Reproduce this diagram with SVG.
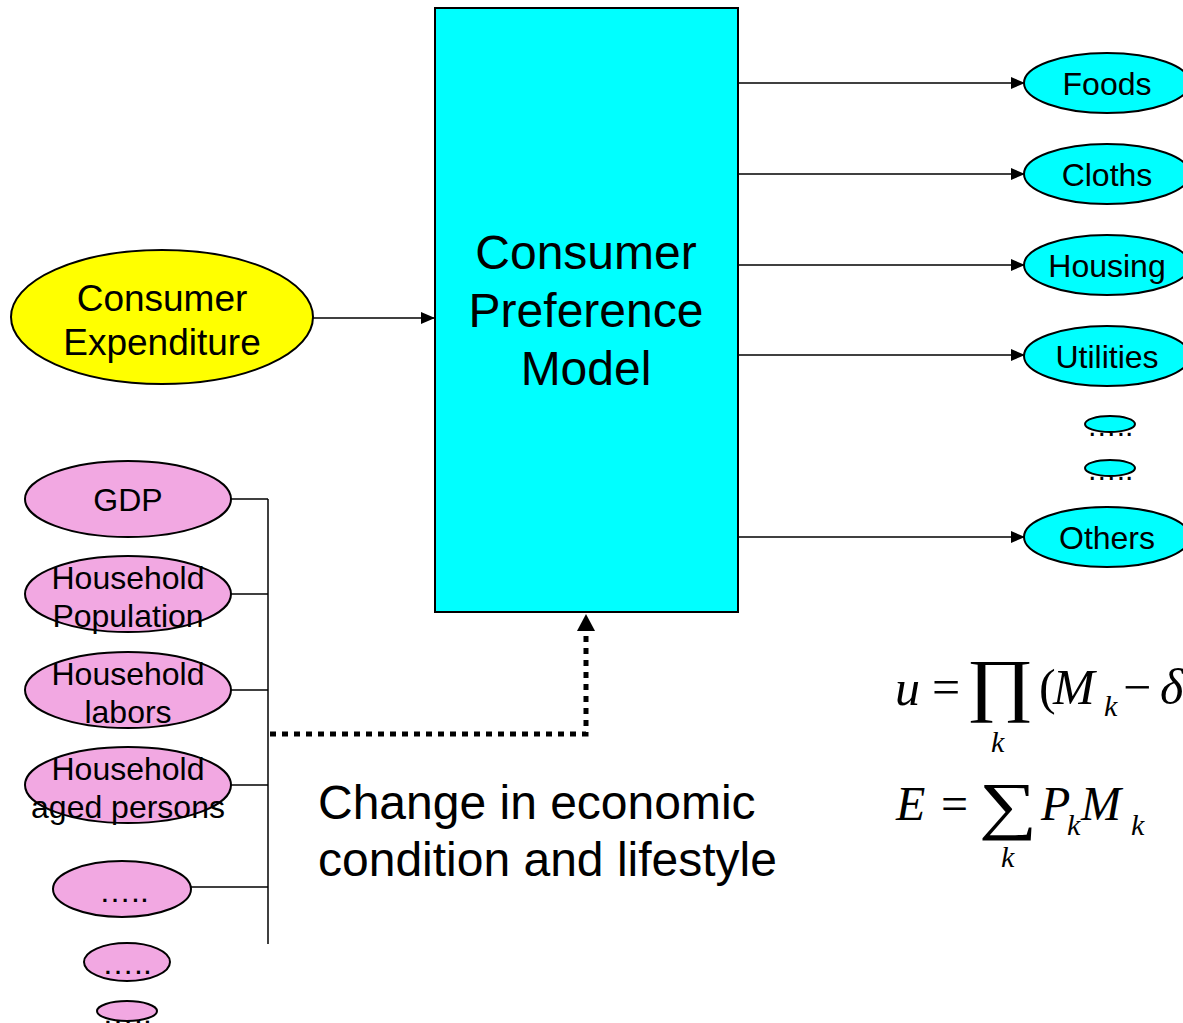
<svg xmlns="http://www.w3.org/2000/svg" width="1183" height="1023" viewBox="0 0 1183 1023">
<style>
text{font-family:"Liberation Sans",Arial,sans-serif;fill:#000}
.c{text-anchor:middle}
.o{fill:#00FFFF;stroke:#000;stroke-width:2}
.p{fill:#F2A8E2;stroke:#000;stroke-width:2}
.ln{stroke:#000;stroke-width:1.5;fill:none}
.m{font-family:"Liberation Serif","Times New Roman",serif;font-style:italic}
.mu{font-family:"Liberation Serif","Times New Roman",serif}
</style>
<defs>
<marker id="ah" markerWidth="14" markerHeight="12" refX="13" refY="6" orient="auto" markerUnits="userSpaceOnUse" viewBox="0 0 14 12">
<path d="M0,0 L14,6 L0,12 z" fill="#000"/>
</marker>
</defs>
<g id="connectors">
<line class="ln" x1="313" y1="318" x2="434" y2="318" marker-end="url(#ah)"/>
<line class="ln" x1="738" y1="83" x2="1024" y2="83" marker-end="url(#ah)"/>
<line class="ln" x1="738" y1="174" x2="1024" y2="174" marker-end="url(#ah)"/>
<line class="ln" x1="738" y1="265" x2="1024" y2="265" marker-end="url(#ah)"/>
<line class="ln" x1="738" y1="355" x2="1024" y2="355" marker-end="url(#ah)"/>
<line class="ln" x1="738" y1="537" x2="1024" y2="537" marker-end="url(#ah)"/>
<line class="ln" x1="268" y1="499" x2="268" y2="944"/>
<line class="ln" x1="231" y1="499" x2="268" y2="499"/>
<line class="ln" x1="231" y1="594" x2="268" y2="594"/>
<line class="ln" x1="231" y1="690" x2="268" y2="690"/>
<line class="ln" x1="231" y1="785" x2="268" y2="785"/>
<line class="ln" x1="191" y1="887" x2="268" y2="887"/>
<path d="M270,734 H586 V630" fill="none" stroke="#000" stroke-width="5" stroke-dasharray="6,6"/>
<path d="M577,631 L586,614 L595,631 z" fill="#000"/>
</g>
<g id="model">
<rect x="435" y="8" width="303" height="604" class="o"/>
<text class="c" x="586" y="269" font-size="48">Consumer</text>
<text class="c" x="586" y="327" font-size="48">Preference</text>
<text class="c" x="586" y="385" font-size="48">Model</text>
</g>
<g id="expenditure">
<ellipse cx="162" cy="317" rx="151" ry="67" fill="#FFFF00" stroke="#000" stroke-width="2"/>
<text class="c" x="162" y="311" font-size="37">Consumer</text>
<text class="c" x="162" y="355" font-size="37">Expenditure</text>
</g>
<g id="foods"><ellipse class="o" cx="1107" cy="83" rx="83" ry="30"/><text class="c" x="1107" y="95" font-size="32">Foods</text></g>
<g id="cloths"><ellipse class="o" cx="1107" cy="174" rx="83" ry="30"/><text class="c" x="1107" y="186" font-size="32">Cloths</text></g>
<g id="housing"><ellipse class="o" cx="1107" cy="265" rx="83" ry="30"/><text class="c" x="1107" y="277" font-size="32">Housing</text></g>
<g id="utilities"><ellipse class="o" cx="1107" cy="356" rx="83" ry="30"/><text class="c" x="1107" y="368" font-size="32">Utilities</text></g>
<g id="more1"><ellipse class="o" cx="1110" cy="424" rx="25" ry="8"/><text class="c" x="1110" y="436" font-size="30">…..</text></g>
<g id="more2"><ellipse class="o" cx="1110" cy="468" rx="25" ry="8"/><text class="c" x="1110" y="480" font-size="30">…..</text></g>
<g id="others"><ellipse class="o" cx="1107" cy="537" rx="83" ry="30"/><text class="c" x="1107" y="549" font-size="32">Others</text></g>
<g id="gdp"><ellipse class="p" cx="128" cy="499" rx="103" ry="38"/><text class="c" x="128" y="511" font-size="32">GDP</text></g>
<g id="population"><ellipse class="p" cx="128" cy="594" rx="103" ry="38"/><text class="c" x="128" y="589" font-size="32">Household</text><text class="c" x="128" y="627" font-size="32">Population</text></g>
<g id="labors"><ellipse class="p" cx="128" cy="690" rx="103" ry="38"/><text class="c" x="128" y="685" font-size="32">Household</text><text class="c" x="128" y="723" font-size="32">labors</text></g>
<g id="aged"><ellipse class="p" cx="128" cy="785" rx="103" ry="38"/><text class="c" x="128" y="780" font-size="32">Household</text><text class="c" x="128" y="818" font-size="32">aged persons</text></g>
<g id="pm1"><ellipse class="p" cx="122" cy="889" rx="69" ry="28"/><text class="c" x="124" y="902" font-size="32">…..</text></g>
<g id="pm2"><ellipse class="p" cx="127" cy="962" rx="43" ry="19"/><text class="c" x="127" y="974" font-size="32">…..</text></g>
<g id="pm3"><ellipse class="p" cx="127" cy="1011" rx="30" ry="10"/><text class="c" x="127" y="1024" font-size="32">…..</text></g>
<g id="caption">
<text x="318" y="819" font-size="48">Change in economic</text>
<text x="318" y="876" font-size="48">condition and lifestyle</text>
</g>
<g id="formula">
<text class="m" x="895" y="705" font-size="50">u</text>
<text class="mu" x="932" y="704" font-size="50">=</text>
<text class="mu c" transform="translate(1000,708) scale(1.17,1)" font-size="70">∏</text>
<text class="mu" x="1039" y="704" font-size="50">(</text>
<text class="m" x="1053" y="704" font-size="50">M</text>
<text class="m" x="1104" y="716" font-size="30">k</text>
<text class="mu" x="1123" y="704" font-size="50">−</text>
<text class="m" x="1160" y="704" font-size="50">δ</text>
<text class="m" x="991" y="752" font-size="30">k</text>
<text class="m" x="896" y="820" font-size="48">E</text>
<text class="mu" x="941" y="820" font-size="48">=</text>
<text class="mu c" transform="translate(1008,827) scale(1.28,1)" font-size="64">∑</text>
<text class="m" x="1041" y="820" font-size="48">P</text>
<text class="m" x="1067" y="835" font-size="30">k</text>
<text class="m" x="1081" y="820" font-size="48">M</text>
<text class="m" x="1131" y="835" font-size="30">k</text>
<text class="m" x="1001" y="867" font-size="30">k</text>
</g>
</svg>
